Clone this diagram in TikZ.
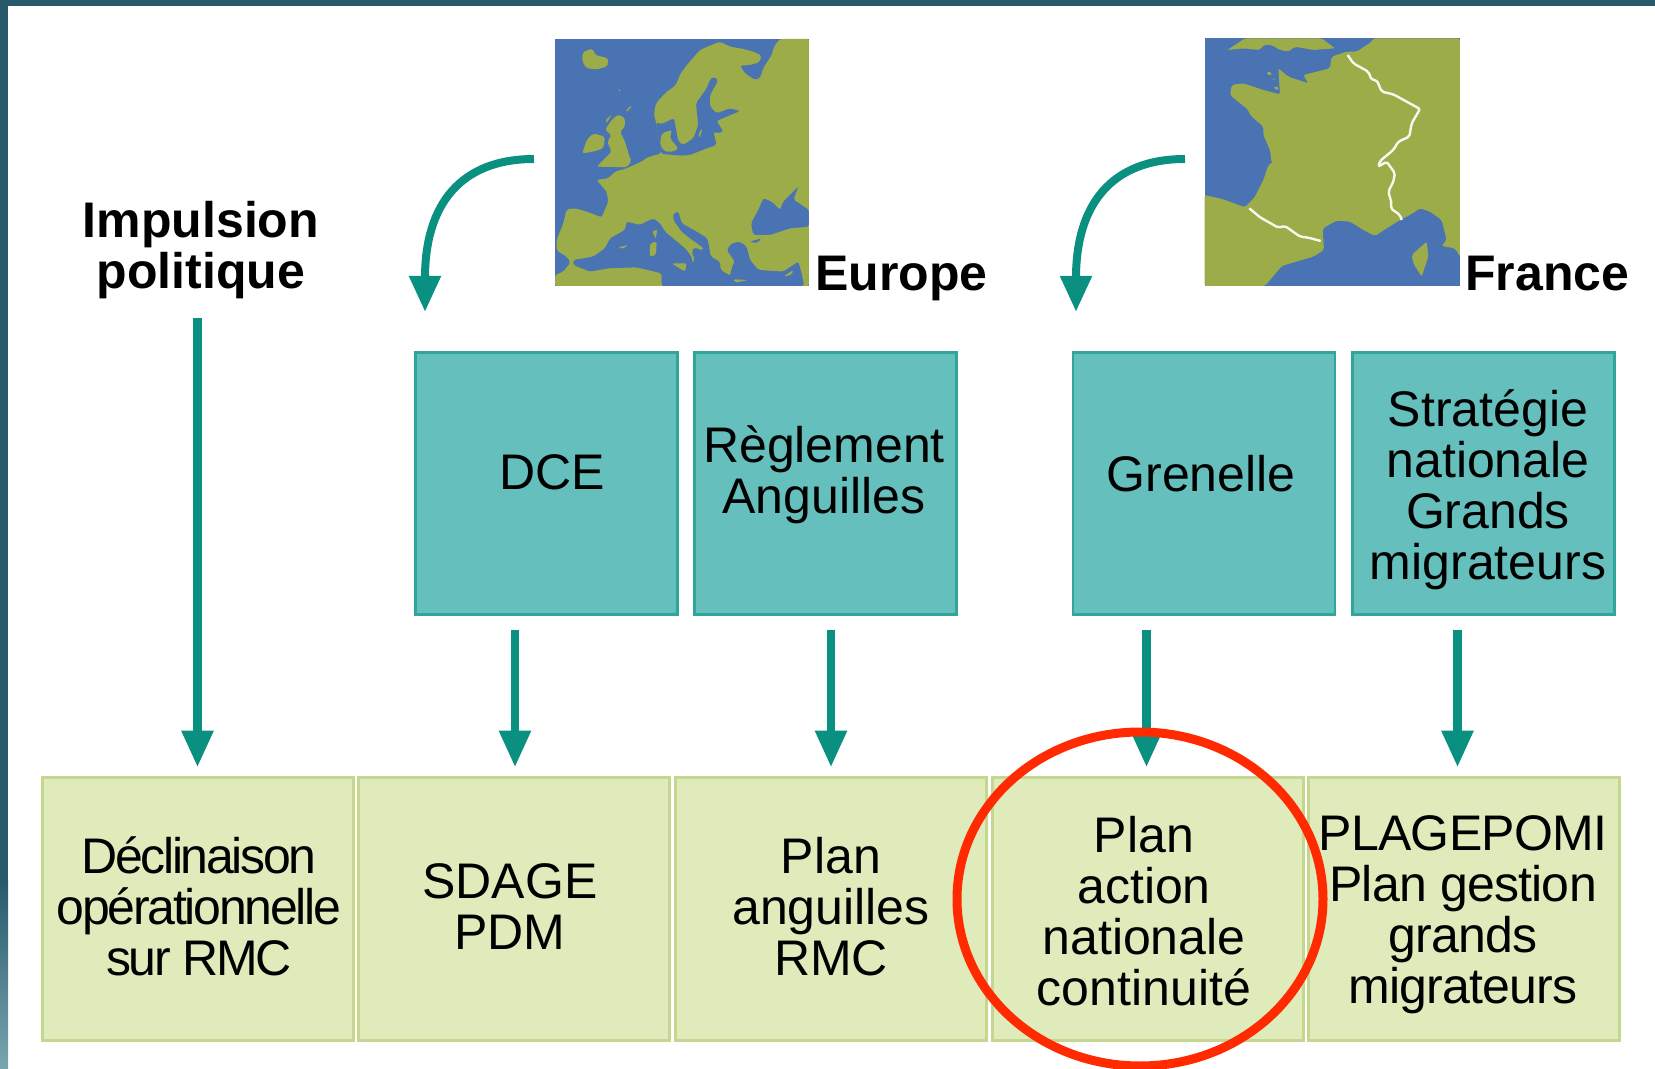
\documentclass[tikz,border=0pt]{standalone}
\usepackage{fontspec}
\setmainfont{Liberation Sans}
\usetikzlibrary{arrows.meta,shapes.geometric}

\definecolor{bandteal}{HTML}{27596B}
\definecolor{bandlight}{HTML}{7AA5B0}
\definecolor{flowteal}{HTML}{0A9080}
\definecolor{tealfill}{HTML}{65BFBC}
\definecolor{tealline}{HTML}{2FA699}
\definecolor{greenfill}{HTML}{E0EBBB}
\definecolor{greenline}{HTML}{C5D68F}
\definecolor{seablue}{HTML}{4A73B3}
\definecolor{landgreen}{HTML}{9CAC48}
\definecolor{ringred}{HTML}{FF2A00}

\tikzset{
    tealbox/.style={draw=tealline, fill=tealfill, line width=1.2pt, minimum width=131pt, minimum height=131pt, inner sep=0pt},
    greenbox/.style={draw=greenline, fill=greenfill, line width=1.5pt, minimum width=155.5pt, minimum height=131.5pt, inner sep=0pt},
    boxtext/.style={align=center, inner sep=0pt, font=\fontsize{25}{25.5}\selectfont},
    headtext/.style={align=center, inner sep=0pt, font=\fontsize{25}{25.5}\selectfont\bfseries},
    flow/.style={draw=flowteal, line width=4.4pt, -{Triangle[width=15pt,length=18.5pt]}},
    curveflow/.style={draw=flowteal, line width=4pt, -{Triangle[width=15pt,length=18pt]}},
    land/.style={fill=landgreen, rounded corners=1pt},
    sea/.style={fill=seablue, rounded corners=1pt},
    frontier/.style={draw=white!92!landgreen, line width=1.2pt, line join=round, rounded corners=1pt}
}

\begin{document}
\begin{tikzpicture}[x=0.5pt,y=-0.5pt]
    \useasboundingbox (0,0) rectangle (1655,1069);

    % Slide edge
    \fill[bandteal] (0,0) rectangle (1655,6);
    \fill[bandteal] (0,0) rectangle (8,880);
    \fill[top color=bandteal, bottom color=bandlight] (0,880) rectangle (8,1069);

    % Europe map
    \begin{scope}[shift={(550,35)},scale=0.3333]
        \clip (15,12) rectangle (777,753);
        \fill[seablue] (15,12) rectangle (777,753);
        \fill[land] (318,262) -- (312,238) -- (318,205) -- (345,175) -- (378,150) -- (392,115)
            -- (415,85) -- (450,45) -- (480,32) -- (510,20) -- (540,35) -- (580,42) -- (610,50)
            -- (635,62) -- (628,82) -- (600,90) -- (570,92) -- (585,115) -- (615,135) -- (630,130)
            -- (640,100) -- (665,60) -- (672,35) -- (690,12) -- (777,12) -- (777,753) -- (15,753)
            -- (15,720) -- (40,710) -- (62,682) -- (50,665) -- (20,647) -- (20,615) -- (40,565)
            -- (50,523) -- (75,520) -- (110,530) -- (155,547) -- (175,500) -- (170,470) -- (140,435)
            -- (175,430) -- (195,410) -- (230,400) -- (275,380) -- (290,368) -- (335,355) -- cycle;
        % Baltic and straits
        \fill[sea] (490,125) -- (505,135) -- (480,180) -- (480,215) -- (500,235) -- (540,220)
            -- (570,228) -- (530,245) -- (500,258) -- (520,290) -- (500,295) -- (490,290) -- (500,330)
            -- (470,340) -- (420,360) -- (390,362) -- (350,358) -- (335,358) -- (318,262) -- (335,268)
            -- (360,255) -- (372,250) -- (385,320) -- (400,330) -- (430,310) -- (445,270) -- (438,205)
            -- (470,160) -- (480,135) -- cycle;
        \fill[land] (335,295) -- (365,285) -- (360,310) -- (385,340) -- (370,350) -- (345,350) -- (330,330) -- cycle;
        \fill[land] (445,295) -- (458,280) -- (448,310) -- cycle;
        % Mediterranean
        \fill[sea] (70,675) -- (130,665) -- (165,640) -- (180,610) -- (225,585) -- (230,560) -- (270,570)
            -- (310,550) -- (330,565) -- (345,590) -- (375,615) -- (405,640) -- (425,665) -- (428,690)
            -- (415,695) -- (435,675) -- (425,650) -- (432,637) -- (458,647) -- (462,640) -- (420,610)
            -- (395,590) -- (370,555) -- (370,535) -- (385,530) -- (395,565) -- (440,590) -- (472,610)
            -- (478,640) -- (482,665) -- (510,680) -- (512,705) -- (540,722) -- (548,690) -- (555,680)
            -- (530,645) -- (545,625) -- (570,620) -- (590,635) -- (600,675) -- (625,705) -- (700,710)
            -- (745,680) -- (755,715) -- (762,753) -- (335,753) -- (335,715) -- (260,697) -- (175,700)
            -- (120,710) -- (70,690) -- cycle;
        % Black Sea
        \fill[sea] (777,525) -- (777,575) -- (720,580) -- (660,600) -- (610,600) -- (603,565) -- (625,525)
            -- (640,490) -- (665,500) -- (690,525) -- (700,500) -- (745,455) -- (730,495) -- (740,500) -- cycle;
        \fill[sea] (600,620) -- (635,610) -- (620,625) -- cycle;
        % Islands
        \fill[land] (97,55) -- (110,45) -- (130,42) -- (135,60) -- (175,70) -- (172,95) -- (140,103) -- (110,100) -- (97,80) -- cycle;
        \fill[land] (97,355) -- (110,315) -- (130,295) -- (165,305) -- (160,340) -- (130,350) -- cycle;
        \fill[land] (140,395) -- (185,350) -- (172,320) -- (185,300) -- (165,285) -- (185,255) -- (205,238) -- (225,250)
            -- (225,275) -- (210,290) -- (225,320) -- (240,370) -- (245,378) -- (230,397) -- cycle;
        \fill[land] (165,258) -- (185,238) -- (170,265) -- cycle;
        \fill[land] (203,163) -- (212,163) -- (210,172) -- cycle;
        \fill[land] (225,230) -- (245,210) -- (240,225) -- cycle;
        \fill[land] (365,685) -- (410,685) -- (405,710) -- cycle;
        \fill[land] (300,625) -- (320,620) -- (318,660) -- (300,665) -- cycle;
        \fill[land] (307,590) -- (322,583) -- (317,612) -- cycle;
        \fill[land] (205,637) -- (235,630) -- (215,643) -- cycle;
        \fill[land] (550,733) -- (595,735) -- (555,743) -- cycle;
        \fill[land] (700,725) -- (730,705) -- (725,720) -- cycle;
    \end{scope}

    % France map
    \begin{scope}[shift={(1200,35)},scale=0.3333]
        \clip (14,10) rectangle (780,753);
        \fill[seablue] (14,10) rectangle (780,753);
        \fill[land] (82,45) -- (135,10) -- (365,10) -- (405,40) -- (340,45) -- (285,35) -- (265,50)
            -- (240,45) -- (215,30) -- (190,30) -- (180,45) -- (130,40) -- cycle;
        \fill[land] (520,10) -- (780,10) -- (780,665) -- (765,640) -- (725,633) -- (740,615) -- (725,555)
            -- (690,530) -- (660,520) -- (630,540) -- (600,555) -- (560,580) -- (525,603) -- (490,585)
            -- (450,560) -- (410,557) -- (368,580) -- (372,645) -- (340,665) -- (245,693) -- (195,753)
            -- (14,753) -- (14,480) -- (70,493) -- (135,517) -- (165,485) -- (190,435) -- (205,390)
            -- (218,382) -- (215,385) -- (210,345) -- (190,300) -- (190,275) -- (150,240) -- (145,225)
            -- (90,180) -- (95,150) -- (130,145) -- (190,165) -- (240,178) -- (235,100) -- (265,125)
            -- (325,145) -- (310,120) -- (390,100) -- (395,65) -- (440,50) -- (470,50) -- (515,20) -- cycle;
        \fill[land] (635,660) -- (680,620) -- (685,665) -- (665,725) -- (640,685) -- cycle;
        \fill[land] (200,110) -- (215,112) -- (214,122) -- (202,120) -- cycle;
        \fill[land] (215,130) -- (225,130) -- (226,137) -- cycle;
        \fill[land] (222,155) -- (235,155) -- (235,165) -- (224,164) -- cycle;
        \fill[seablue] (165,295) -- (177,298) -- (168,303) -- cycle;
        % Borders
        \draw[frontier] (443,60) -- (460,85) -- (505,110) -- (515,135) -- (530,135) -- (545,170) -- (580,178)
            -- (660,222) -- (635,265) -- (628,305) -- (595,320) -- (580,345) -- (540,378) -- (535,395)
            -- (560,380) -- (585,415) -- (580,440) -- (565,470) -- (575,505) -- (572,520) -- (600,540) -- (605,555);
        \draw[frontier] (148,520) -- (180,547) -- (235,578) -- (255,573) -- (300,605) -- (325,608) -- (362,618);
    \end{scope}

    % Top labels
    \node[headtext] (impulsion) at (201,250) {Impulsion\\politique};
    \node[headtext, anchor=base west] (europelabel) at (815,291) {Europe};
    \node[headtext, anchor=base west] (francelabel) at (1465,291) {France};

    % Directive boxes
    \node[tealbox] (dce) at (546.5,483.5) {};
    \node[tealbox] (reglement) at (825.5,483.5) {};
    \node[tealbox] (grenelle) at (1204,483.5) {};
    \node[tealbox] (strategie) at (1483.5,483.5) {};
    \node[boxtext] (dcetext) at (552,472) {DCE};
    \node[boxtext] (reglementtext) at (824,475) {Règlement\\Anguilles};
    \node[boxtext] (grenelletext) at (1201,474) {Grenelle};
    \node[boxtext] (strategietext) at (1488,490) {Stratégie\\nationale\\Grands\\migrateurs};

    % Basin boxes
    \node[greenbox] (declinaison) at (197.5,908.5) {};
    \node[greenbox] (sdage) at (514,908.5) {};
    \node[greenbox] (anguilles) at (831,908.5) {};
    \node[greenbox] (action) at (1147.5,908.5) {};
    \node[greenbox] (plagepomi) at (1463.5,908.5) {};
    \node[boxtext] (declinaisontext) at (199,906) {\addfontfeature{LetterSpace=-4.6}Déclinaison\\\addfontfeature{LetterSpace=-4.6}opérationnelle\\\addfontfeature{LetterSpace=-4.6}sur RMC};
    \node[boxtext] (sdagetext) at (510,907) {SDAGE\\PDM};
    \node[boxtext] (anguillestext) at (831,907) {Plan\\anguilles\\RMC};
    \node[boxtext] (actiontext) at (1144,911) {Plan\\action\\nationale\\continuité};
    \node[boxtext] (plagepomitext) at (1463,915) {\addfontfeature{LetterSpace=-1.5}PLAGEPOMI\\\addfontfeature{LetterSpace=-1.5}Plan gestion\\\addfontfeature{LetterSpace=-1.5}grands\\\addfontfeature{LetterSpace=-1.5}migrateurs};

    % Curved arrows from the maps
    \coordinate (europestart) at (534,159);
    \coordinate (europetip) at (425,312);
    \coordinate (francestart) at (1185,159);
    \coordinate (francetip) at (1076,312);
    \draw[curveflow] (europestart) .. controls (460,159) and (425,205) .. (europetip);
    \draw[curveflow] (francestart) .. controls (1111,159) and (1076,205) .. (francetip);

    % Vertical arrows
    \draw[flow, shorten >=4pt] (impulsion.south -| declinaison.north) ++(0,19) -- (declinaison.north);
    \draw[flow, shorten <=7pt, shorten >=4pt] ([xshift=0.5pt]dce.south -| sdage.north) -- ([xshift=0.5pt]sdage.north);
    \draw[flow, shorten <=7pt, shorten >=4pt] (reglement.south -| anguilles.north) -- (anguilles.north);
    \draw[flow, shorten <=7pt, shorten >=4pt] ([xshift=-0.5pt]grenelle.south -| action.north) -- ([xshift=-0.5pt]action.north);
    \draw[flow, shorten <=7pt, shorten >=4pt] ([xshift=-3pt]strategie.south -| plagepomi.north) -- ([xshift=-3pt]plagepomi.north);

    % Highlight ring
    \node[ellipse, draw=ringred, line width=4.5pt, minimum width=183pt, minimum height=167pt, inner sep=0pt] (ring) at (1140,899) {};
\end{tikzpicture}
\end{document}
